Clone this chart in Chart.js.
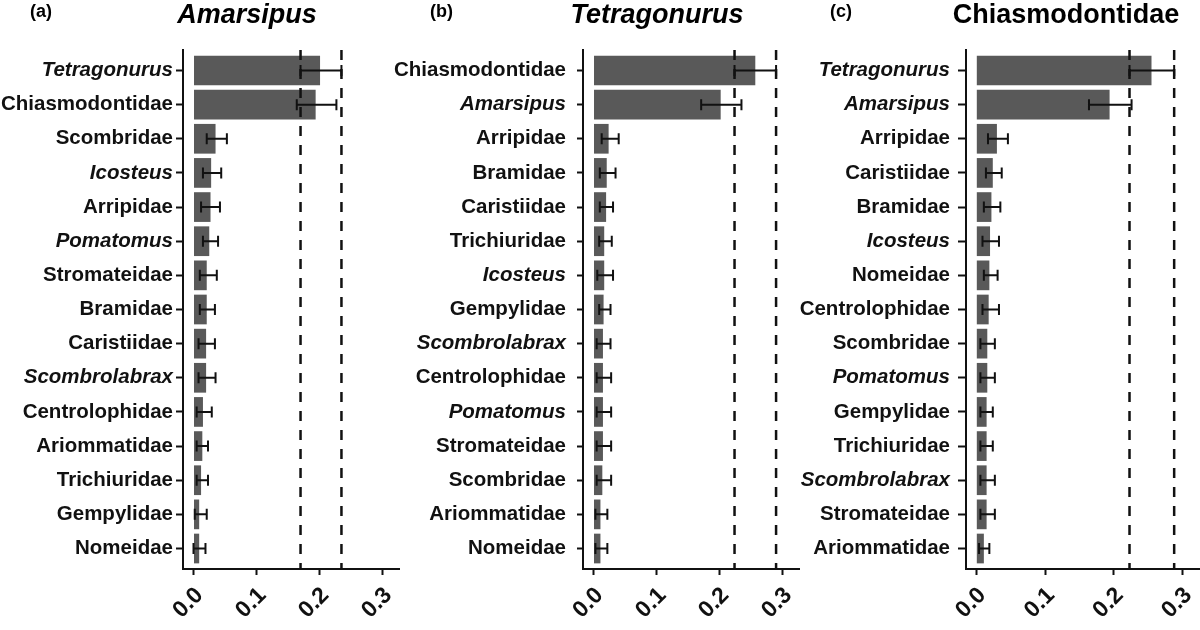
<!DOCTYPE html>
<html>
<head>
<meta charset="utf-8">
<script src="https://cdn.jsdelivr.net/npm/chart.js@4.4.1/dist/chart.umd.min.js"></script>
<style>
  body { margin: 0; background: #fff; }
  #wrap { position: relative; width: 1200px; height: 630px; overflow: hidden; background: #fff;
          font-family: 'Liberation Sans', Arial, sans-serif; font-weight: bold; color: #000; }
  canvas { position: absolute; top: 0; }
  .tag { position: absolute; top: 2px; font-size: 18px; line-height: 1; }
  .title { position: absolute; top: 1px; font-size: 27px; line-height: 1; white-space: nowrap; transform: translateX(-50%); }
  .it { font-style: italic; }
</style>
</head>
<body>
<div id="wrap">
  <canvas id="panelA" width="400" height="630" style="left:0"></canvas>
  <canvas id="panelB" width="420" height="630" style="left:380px"></canvas>
  <canvas id="panelC" width="420" height="630" style="left:780px"></canvas>
  <div class="tag" style="left:30px">(a)</div>
  <div class="tag" style="left:430px">(b)</div>
  <div class="tag" style="left:830px">(c)</div>
  <div class="title it" style="left:247px">Amarsipus</div>
  <div class="title it" style="left:657px">Tetragonurus</div>
  <div class="title" style="left:1066px">Chiasmodontidae</div>
</div>
<script>
// ── data ─────────────────────────────────────────────────────────────────────
const labelsA = ['Tetragonurus', 'Chiasmodontidae', 'Scombridae', 'Icosteus', 'Arripidae', 'Pomatomus',
    'Stromateidae', 'Bramidae', 'Caristiidae', 'Scombrolabrax', 'Centrolophidae', 'Ariommatidae',
    'Trichiuridae', 'Gempylidae', 'Nomeidae']
const valuesA = [0.201, 0.194, 0.035, 0.028, 0.027, 0.025, 0.021, 0.021, 0.020, 0.020, 0.015, 0.014, 0.012, 0.009, 0.009]
const lowA    = [0.170, 0.164, 0.021, 0.015, 0.012, 0.015, 0.010, 0.010, 0.008, 0.008, 0.005, 0.005, 0.005, 0.002, 0.000]
const highA   = [0.235, 0.227, 0.053, 0.044, 0.042, 0.039, 0.037, 0.034, 0.034, 0.035, 0.029, 0.023, 0.023, 0.021, 0.019]
const cutsA   = [0.170, 0.235]

const labelsB = ['Chiasmodontidae', 'Amarsipus', 'Arripidae', 'Bramidae', 'Caristiidae', 'Trichiuridae',
    'Icosteus', 'Gempylidae', 'Scombrolabrax', 'Centrolophidae', 'Pomatomus', 'Stromateidae',
    'Scombridae', 'Ariommatidae', 'Nomeidae']
const valuesB = [0.257, 0.202, 0.024, 0.021, 0.020, 0.017, 0.017, 0.016, 0.015, 0.015, 0.015, 0.015, 0.014, 0.011, 0.011]
const lowB    = [0.224, 0.171, 0.013, 0.010, 0.010, 0.009, 0.006, 0.009, 0.005, 0.005, 0.005, 0.005, 0.005, 0.003, 0.003]
const highB   = [0.290, 0.235, 0.040, 0.035, 0.031, 0.029, 0.031, 0.027, 0.027, 0.028, 0.028, 0.028, 0.028, 0.022, 0.022]
const cutsB   = [0.224, 0.290]

const labelsC = ['Tetragonurus', 'Amarsipus', 'Arripidae', 'Caristiidae', 'Bramidae', 'Icosteus',
    'Nomeidae', 'Centrolophidae', 'Scombridae', 'Pomatomus', 'Gempylidae', 'Trichiuridae',
    'Scombrolabrax', 'Stromateidae', 'Ariommatidae']
const valuesC = [0.255, 0.194, 0.030, 0.024, 0.022, 0.020, 0.019, 0.018, 0.016, 0.016, 0.015, 0.015, 0.015, 0.015, 0.011]
const lowC    = [0.223, 0.164, 0.017, 0.014, 0.011, 0.009, 0.011, 0.009, 0.006, 0.006, 0.006, 0.006, 0.006, 0.006, 0.004]
const highC   = [0.288, 0.226, 0.046, 0.037, 0.035, 0.033, 0.031, 0.033, 0.027, 0.027, 0.024, 0.024, 0.027, 0.027, 0.019]
const cutsC   = [0.223, 0.288]

const xTicks = [0, 0.1, 0.2, 0.3]
// genus names are set in italics, families upright
const italicNames = ['Tetragonurus', 'Amarsipus', 'Icosteus', 'Pomatomus', 'Scombrolabrax']

// ── style ────────────────────────────────────────────────────────────────────
const FONT = "'Liberation Sans', Arial, sans-serif"
const BAR  = '#595959'
const INK  = '#111'

// dashed reference lines across the panel
const refLines = {
    id: 'refLines',
    afterDatasetsDraw(chart, args, opts) {
        const { ctx, chartArea: area, scales: { x } } = chart
        ctx.save()
        ctx.strokeStyle = INK
        ctx.lineWidth = 2.5
        ctx.setLineDash([10, 9])
        opts.values.forEach(v => {
            const px = x.getPixelForValue(v)
            ctx.beginPath()
            ctx.moveTo(px, area.top)
            ctx.lineTo(px, area.bottom)
            ctx.stroke()
        })
        ctx.restore()
    },
}

// horizontal error bars with end caps
const errorBars = {
    id: 'errorBars',
    afterDatasetsDraw(chart, args, opts) {
        const { ctx, scales: { x, y } } = chart
        const cap = 5.5
        ctx.save()
        ctx.strokeStyle = INK
        ctx.lineWidth = 2
        opts.low.forEach((lo, i) => {
            const x1 = x.getPixelForValue(lo)
            const x2 = x.getPixelForValue(opts.high[i])
            const py = y.getPixelForValue(i)
            ctx.beginPath()
            ctx.moveTo(x1, py); ctx.lineTo(x2, py)
            ctx.moveTo(x1, py - cap); ctx.lineTo(x1, py + cap)
            ctx.moveTo(x2, py - cap); ctx.lineTo(x2, py + cap)
            ctx.stroke()
        })
        ctx.restore()
    },
}

function drawPanel(canvasId, labels, values, low, high, cuts, geo) {
    return new Chart(document.getElementById(canvasId), {
        type: 'bar',
        data: {
            datasets: [{
                data: values.map((v, i) => ({ x: v, y: i })),
                backgroundColor: BAR,
                barPercentage: 0.87,
                categoryPercentage: 1,
            }],
        },
        plugins: [refLines, errorBars],
        options: {
            indexAxis: 'y',
            responsive: false,
            animation: false,
            layout: { padding: { top: 50, left: 0, right: 0, bottom: 0 } },
            plugins: {
                legend: { display: false },
                tooltip: { enabled: false },
                refLines: { values: cuts },
                errorBars: { low, high },
            },
            scales: {
                x: {
                    type: 'linear',
                    min: geo.xMin,
                    max: geo.xMax,
                    afterBuildTicks: s => { s.ticks = xTicks.map(v => ({ value: v })) },
                    afterFit: s => { s.height = 61; s.paddingLeft = 0; s.paddingRight = 0 },
                    border: { display: true, color: INK, width: 2 },
                    grid: { drawOnChartArea: false, tickLength: 6, tickColor: INK, tickWidth: 2 },
                    ticks: {
                        color: INK,
                        font: { family: FONT, size: 23, weight: 'bold' },
                        minRotation: 45,
                        maxRotation: 45,
                        padding: 7,
                        labelOffset: 6,
                        callback: v => v.toFixed(1),
                    },
                },
                y: {
                    type: 'linear',
                    reverse: true,
                    offset: false,
                    min: -0.6,
                    max: labels.length - 0.4,
                    afterBuildTicks: s => { s.ticks = labels.map((_, i) => ({ value: i })) },
                    afterFit: s => { s.width = geo.axisWidth; s.paddingTop = 0; s.paddingBottom = 0 },
                    border: { display: true, color: INK, width: 2 },
                    grid: { offset: false, drawOnChartArea: false, tickLength: geo.tick, tickColor: INK, tickWidth: 2 },
                    ticks: {
                        color: INK,
                        autoSkip: false,
                        padding: geo.pad,
                        font: c => ({
                            family: FONT,
                            size: 20.5,
                            weight: 'bold',
                            style: italicNames.includes(labels[c.tick && c.tick.value]) ? 'italic' : 'normal',
                        }),
                        callback: v => labels[v],
                    },
                },
            },
        },
    })
}

drawPanel('panelA', labelsA, valuesA, lowA, highA, cutsA, { xMin: -0.0167, xMax: 0.328, axisWidth: 183, tick: 7, pad: 3 })
drawPanel('panelB', labelsB, valuesB, lowB, highB, cutsB, { xMin: -0.0167, xMax: 0.328, axisWidth: 203, tick: 6, pad: 11 })
drawPanel('panelC', labelsC, valuesC, lowC, highC, cutsC, { xMin: -0.015, xMax: 0.3256, axisWidth: 186, tick: 8, pad: 8 })
</script>
</body>
</html>
